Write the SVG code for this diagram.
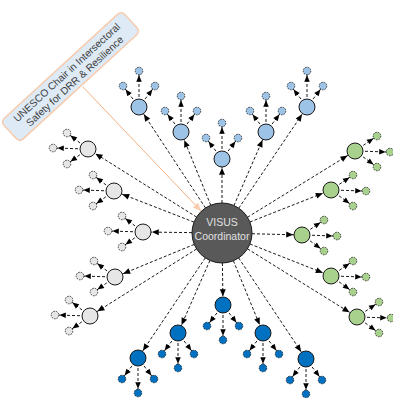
<svg xmlns="http://www.w3.org/2000/svg" width="393" height="398" viewBox="0 0 393 398">
<style>
.c line{stroke:#000;stroke-width:0.9;stroke-dasharray:3 2;fill:none}
.c line.p{marker-end:url(#ap)}
.c line.k{marker-end:url(#ak)}
.c line.o{stroke:#F4B183;stroke-width:1;stroke-dasharray:none;marker-end:url(#ao)}
circle{stroke:#1a1a1a;stroke-width:1}
.lb circle{fill:#9DC3E6}
.db circle{fill:#0070C0}
.gy circle{fill:#E7E6E6}
.gr circle{fill:#A9D18E}
circle.kid{stroke-width:0.8;stroke-dasharray:1.6 1}
text{font-family:"Liberation Sans",Arial,sans-serif}
</style>
<defs>
<marker id="ap" viewBox="0 0 7 6" markerWidth="7" markerHeight="6" refX="15.8" refY="3" orient="auto" markerUnits="userSpaceOnUse" overflow="visible"><path d="M0,0L7,3L0,6z" fill="#000"/></marker>
<marker id="ak" viewBox="0 0 6.5 5.5" markerWidth="6.5" markerHeight="5.5" refX="10.8" refY="2.75" orient="auto" markerUnits="userSpaceOnUse" overflow="visible"><path d="M0,0L6.5,2.75L0,5.5z" fill="#000"/></marker>
<marker id="ao" viewBox="0 0 8 7" markerWidth="8" markerHeight="7" refX="38.5" refY="3.5" orient="auto" markerUnits="userSpaceOnUse" overflow="visible"><path d="M0,0L8,3.5L0,7z" fill="#F8CBAD"/></marker>
</defs>
<g id="label">
<g transform="translate(70.5,76.5) rotate(-42.5)">
<rect x="-82" y="-14" width="164" height="28" rx="5" fill="#DEEBF7" stroke="#F8CBAD" stroke-width="1.5"/>
<text x="0" y="-2" font-size="10.2" fill="#404040" text-anchor="middle">UNESCO Chair in Intersectoral</text>
<text x="0" y="9.8" font-size="10.2" fill="#404040" text-anchor="middle">Safety for DRR &amp; Resilience</text>
</g>
</g>
<g id="connectors" class="c">
<line class="o" x1="83" y1="87" x2="222" y2="233"/>
<line class="p" x1="222" y1="233" x2="139" y2="107"/>
<line class="p" x1="222" y1="233" x2="181" y2="132"/>
<line class="p" x1="222" y1="233" x2="222" y2="159"/>
<line class="p" x1="222" y1="233" x2="266" y2="132"/>
<line class="p" x1="222" y1="233" x2="307" y2="107"/>
<line class="p" x1="222" y1="233" x2="138" y2="358"/>
<line class="p" x1="222" y1="233" x2="178" y2="333"/>
<line class="p" x1="222" y1="233" x2="223" y2="305"/>
<line class="p" x1="222" y1="233" x2="263" y2="333"/>
<line class="p" x1="222" y1="233" x2="306" y2="359"/>
<line class="p" x1="222" y1="233" x2="88" y2="149"/>
<line class="p" x1="222" y1="233" x2="114" y2="191"/>
<line class="p" x1="222" y1="233" x2="143" y2="232"/>
<line class="p" x1="222" y1="233" x2="115" y2="277"/>
<line class="p" x1="222" y1="233" x2="90" y2="316"/>
<line class="p" x1="222" y1="233" x2="355" y2="151"/>
<line class="p" x1="222" y1="233" x2="331" y2="190"/>
<line class="p" x1="222" y1="233" x2="302" y2="235"/>
<line class="p" x1="222" y1="233" x2="331" y2="276"/>
<line class="p" x1="222" y1="233" x2="357" y2="317"/>
<line class="k" x1="139" y1="107" x2="123" y2="86"/>
<line class="k" x1="139" y1="107" x2="139" y2="71"/>
<line class="k" x1="139" y1="107" x2="155" y2="86"/>
<line class="k" x1="181" y1="132" x2="165" y2="111"/>
<line class="k" x1="181" y1="132" x2="181" y2="96"/>
<line class="k" x1="181" y1="132" x2="197" y2="111"/>
<line class="k" x1="222" y1="159" x2="206" y2="138"/>
<line class="k" x1="222" y1="159" x2="222" y2="123"/>
<line class="k" x1="222" y1="159" x2="238" y2="138"/>
<line class="k" x1="266" y1="132" x2="250" y2="111"/>
<line class="k" x1="266" y1="132" x2="266" y2="96"/>
<line class="k" x1="266" y1="132" x2="282" y2="111"/>
<line class="k" x1="307" y1="107" x2="291" y2="86"/>
<line class="k" x1="307" y1="107" x2="307" y2="71"/>
<line class="k" x1="307" y1="107" x2="323" y2="86"/>
<line class="k" x1="138" y1="358" x2="122" y2="379"/>
<line class="k" x1="138" y1="358" x2="138" y2="393"/>
<line class="k" x1="138" y1="358" x2="154" y2="379"/>
<line class="k" x1="178" y1="333" x2="162" y2="354"/>
<line class="k" x1="178" y1="333" x2="178" y2="368"/>
<line class="k" x1="178" y1="333" x2="194" y2="354"/>
<line class="k" x1="223" y1="305" x2="207" y2="326"/>
<line class="k" x1="223" y1="305" x2="223" y2="340"/>
<line class="k" x1="223" y1="305" x2="239" y2="326"/>
<line class="k" x1="263" y1="333" x2="247" y2="354"/>
<line class="k" x1="263" y1="333" x2="263" y2="368"/>
<line class="k" x1="263" y1="333" x2="279" y2="354"/>
<line class="k" x1="306" y1="359" x2="290" y2="380"/>
<line class="k" x1="306" y1="359" x2="306" y2="394"/>
<line class="k" x1="306" y1="359" x2="322" y2="380"/>
<line class="k" x1="88" y1="149" x2="67" y2="133"/>
<line class="k" x1="88" y1="149" x2="53" y2="148"/>
<line class="k" x1="88" y1="149" x2="67" y2="164"/>
<line class="k" x1="114" y1="191" x2="93" y2="175"/>
<line class="k" x1="114" y1="191" x2="79" y2="190"/>
<line class="k" x1="114" y1="191" x2="93" y2="206"/>
<line class="k" x1="143" y1="232" x2="122" y2="216"/>
<line class="k" x1="143" y1="232" x2="108" y2="231"/>
<line class="k" x1="143" y1="232" x2="122" y2="247"/>
<line class="k" x1="115" y1="277" x2="94" y2="261"/>
<line class="k" x1="115" y1="277" x2="80" y2="276"/>
<line class="k" x1="115" y1="277" x2="94" y2="292"/>
<line class="k" x1="90" y1="316" x2="69" y2="300"/>
<line class="k" x1="90" y1="316" x2="55" y2="315"/>
<line class="k" x1="90" y1="316" x2="69" y2="331"/>
<line class="k" x1="355" y1="151" x2="377" y2="136"/>
<line class="k" x1="355" y1="151" x2="390" y2="152"/>
<line class="k" x1="355" y1="151" x2="377" y2="167"/>
<line class="k" x1="331" y1="190" x2="353" y2="175"/>
<line class="k" x1="331" y1="190" x2="366" y2="191"/>
<line class="k" x1="331" y1="190" x2="353" y2="206"/>
<line class="k" x1="302" y1="235" x2="324" y2="220"/>
<line class="k" x1="302" y1="235" x2="337" y2="236"/>
<line class="k" x1="302" y1="235" x2="324" y2="251"/>
<line class="k" x1="331" y1="276" x2="353" y2="261"/>
<line class="k" x1="331" y1="276" x2="366" y2="277"/>
<line class="k" x1="331" y1="276" x2="353" y2="292"/>
<line class="k" x1="357" y1="317" x2="379" y2="302"/>
<line class="k" x1="357" y1="317" x2="391" y2="318"/>
<line class="k" x1="357" y1="317" x2="379" y2="333"/>
</g>
<g id="coordinator">
<circle cx="222" cy="233" r="30" fill="#595959" stroke="#000"/>
<text x="222" y="226" font-size="10.5" fill="#E0E0E0" text-anchor="middle">VISUS</text>
<text x="222" y="240" font-size="10.5" fill="#E0E0E0" text-anchor="middle">Coordinator</text>
</g>
<g class="lb">
<g id="t1"><circle cx="139" cy="107" r="8"/></g>
<g id="t1a"><circle class="kid" cx="123" cy="86" r="3.8"/></g>
<g id="t1b"><circle class="kid" cx="139" cy="71" r="3.8"/></g>
<g id="t1c"><circle class="kid" cx="155" cy="86" r="3.8"/></g>
<g id="t2"><circle cx="181" cy="132" r="8"/></g>
<g id="t2a"><circle class="kid" cx="165" cy="111" r="3.8"/></g>
<g id="t2b"><circle class="kid" cx="181" cy="96" r="3.8"/></g>
<g id="t2c"><circle class="kid" cx="197" cy="111" r="3.8"/></g>
<g id="t3"><circle cx="222" cy="159" r="8"/></g>
<g id="t3a"><circle class="kid" cx="206" cy="138" r="3.8"/></g>
<g id="t3b"><circle class="kid" cx="222" cy="123" r="3.8"/></g>
<g id="t3c"><circle class="kid" cx="238" cy="138" r="3.8"/></g>
<g id="t4"><circle cx="266" cy="132" r="8"/></g>
<g id="t4a"><circle class="kid" cx="250" cy="111" r="3.8"/></g>
<g id="t4b"><circle class="kid" cx="266" cy="96" r="3.8"/></g>
<g id="t4c"><circle class="kid" cx="282" cy="111" r="3.8"/></g>
<g id="t5"><circle cx="307" cy="107" r="8"/></g>
<g id="t5a"><circle class="kid" cx="291" cy="86" r="3.8"/></g>
<g id="t5b"><circle class="kid" cx="307" cy="71" r="3.8"/></g>
<g id="t5c"><circle class="kid" cx="323" cy="86" r="3.8"/></g>
</g>
<g class="db">
<g id="b1"><circle cx="138" cy="358" r="8"/></g>
<g id="b1a"><circle class="kid" cx="122" cy="379" r="3.8"/></g>
<g id="b1b"><circle class="kid" cx="138" cy="393" r="3.8"/></g>
<g id="b1c"><circle class="kid" cx="154" cy="379" r="3.8"/></g>
<g id="b2"><circle cx="178" cy="333" r="8"/></g>
<g id="b2a"><circle class="kid" cx="162" cy="354" r="3.8"/></g>
<g id="b2b"><circle class="kid" cx="178" cy="368" r="3.8"/></g>
<g id="b2c"><circle class="kid" cx="194" cy="354" r="3.8"/></g>
<g id="b3"><circle cx="223" cy="305" r="8"/></g>
<g id="b3a"><circle class="kid" cx="207" cy="326" r="3.8"/></g>
<g id="b3b"><circle class="kid" cx="223" cy="340" r="3.8"/></g>
<g id="b3c"><circle class="kid" cx="239" cy="326" r="3.8"/></g>
<g id="b4"><circle cx="263" cy="333" r="8"/></g>
<g id="b4a"><circle class="kid" cx="247" cy="354" r="3.8"/></g>
<g id="b4b"><circle class="kid" cx="263" cy="368" r="3.8"/></g>
<g id="b4c"><circle class="kid" cx="279" cy="354" r="3.8"/></g>
<g id="b5"><circle cx="306" cy="359" r="8"/></g>
<g id="b5a"><circle class="kid" cx="290" cy="380" r="3.8"/></g>
<g id="b5b"><circle class="kid" cx="306" cy="394" r="3.8"/></g>
<g id="b5c"><circle class="kid" cx="322" cy="380" r="3.8"/></g>
</g>
<g class="gy">
<g id="g1"><circle cx="88" cy="149" r="8"/></g>
<g id="g1a"><circle class="kid" cx="67" cy="133" r="3.8"/></g>
<g id="g1b"><circle class="kid" cx="53" cy="148" r="3.8"/></g>
<g id="g1c"><circle class="kid" cx="67" cy="164" r="3.8"/></g>
<g id="g2"><circle cx="114" cy="191" r="8"/></g>
<g id="g2a"><circle class="kid" cx="93" cy="175" r="3.8"/></g>
<g id="g2b"><circle class="kid" cx="79" cy="190" r="3.8"/></g>
<g id="g2c"><circle class="kid" cx="93" cy="206" r="3.8"/></g>
<g id="g3"><circle cx="143" cy="232" r="8"/></g>
<g id="g3a"><circle class="kid" cx="122" cy="216" r="3.8"/></g>
<g id="g3b"><circle class="kid" cx="108" cy="231" r="3.8"/></g>
<g id="g3c"><circle class="kid" cx="122" cy="247" r="3.8"/></g>
<g id="g4"><circle cx="115" cy="277" r="8"/></g>
<g id="g4a"><circle class="kid" cx="94" cy="261" r="3.8"/></g>
<g id="g4b"><circle class="kid" cx="80" cy="276" r="3.8"/></g>
<g id="g4c"><circle class="kid" cx="94" cy="292" r="3.8"/></g>
<g id="g5"><circle cx="90" cy="316" r="8"/></g>
<g id="g5a"><circle class="kid" cx="69" cy="300" r="3.8"/></g>
<g id="g5b"><circle class="kid" cx="55" cy="315" r="3.8"/></g>
<g id="g5c"><circle class="kid" cx="69" cy="331" r="3.8"/></g>
</g>
<g class="gr">
<g id="n1"><circle cx="355" cy="151" r="8"/></g>
<g id="n1a"><circle class="kid" cx="377" cy="136" r="3.8"/></g>
<g id="n1b"><circle class="kid" cx="390" cy="152" r="3.8"/></g>
<g id="n1c"><circle class="kid" cx="377" cy="167" r="3.8"/></g>
<g id="n2"><circle cx="331" cy="190" r="8"/></g>
<g id="n2a"><circle class="kid" cx="353" cy="175" r="3.8"/></g>
<g id="n2b"><circle class="kid" cx="366" cy="191" r="3.8"/></g>
<g id="n2c"><circle class="kid" cx="353" cy="206" r="3.8"/></g>
<g id="n3"><circle cx="302" cy="235" r="8"/></g>
<g id="n3a"><circle class="kid" cx="324" cy="220" r="3.8"/></g>
<g id="n3b"><circle class="kid" cx="337" cy="236" r="3.8"/></g>
<g id="n3c"><circle class="kid" cx="324" cy="251" r="3.8"/></g>
<g id="n4"><circle cx="331" cy="276" r="8"/></g>
<g id="n4a"><circle class="kid" cx="353" cy="261" r="3.8"/></g>
<g id="n4b"><circle class="kid" cx="366" cy="277" r="3.8"/></g>
<g id="n4c"><circle class="kid" cx="353" cy="292" r="3.8"/></g>
<g id="n5"><circle cx="357" cy="317" r="8"/></g>
<g id="n5a"><circle class="kid" cx="379" cy="302" r="3.8"/></g>
<g id="n5b"><circle class="kid" cx="391" cy="318" r="3.8"/></g>
<g id="n5c"><circle class="kid" cx="379" cy="333" r="3.8"/></g>
</g>
</svg>
